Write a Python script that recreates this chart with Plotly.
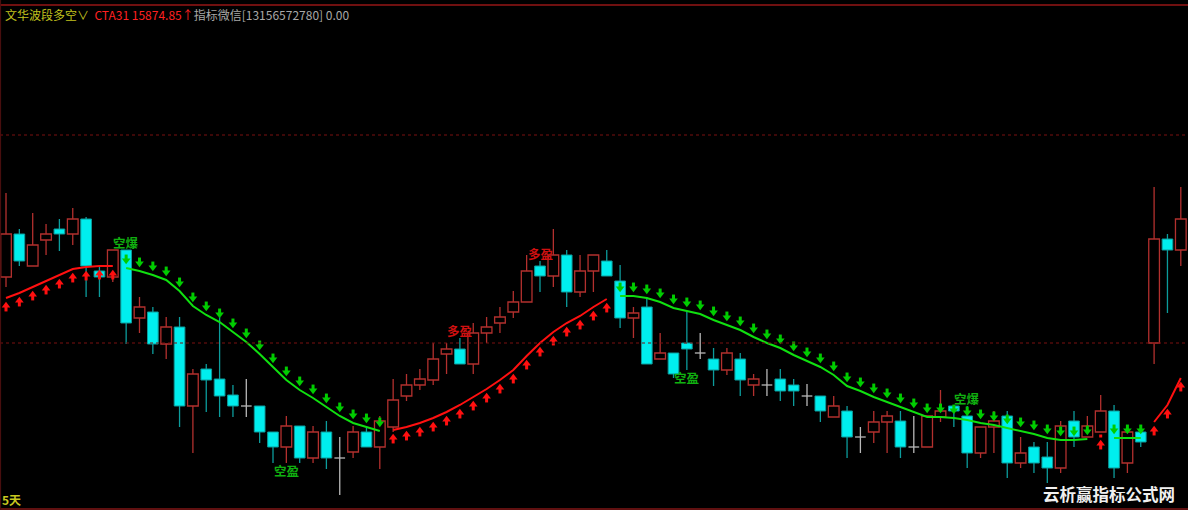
import plotly.graph_objects as go

# ---------------- data ----------------
opens = [15723, 15766, 15734, 15760, 15771, 15766, 15781, 15729, 15723, 15750,
         15682, 15688, 15656, 15673, 15594, 15631, 15621, 15605, 15594, 15594,
         15568, 15553, 15574, 15542, 15568, 15542, 15548, 15568, 15553, 15573,
         15604, 15615, 15620, 15646, 15651, 15636, 15667, 15677, 15688, 15698,
         15734, 15724, 15745, 15708, 15729, 15739, 15719, 15682, 15693, 15641,
         15647, 15657, 15647, 15641, 15630, 15641, 15615, 15615, 15621, 15615,
         15604, 15604, 15583, 15589, 15563, 15568, 15578, 15579, 15553, 15553,
         15583, 15594, 15584, 15547, 15573, 15584, 15537, 15553, 15543, 15532,
         15579, 15563, 15568, 15589, 15537, 15568, 15657, 15761, 15750]
highs = [15807, 15771, 15787, 15776, 15781, 15792, 15783, 15734, 15750, 15750,
         15703, 15693, 15683, 15683, 15631, 15636, 15683, 15615, 15621, 15594,
         15568, 15584, 15574, 15574, 15579, 15563, 15574, 15574, 15584, 15621,
         15626, 15631, 15657, 15657, 15662, 15677, 15683, 15693, 15709, 15745,
         15739, 15771, 15750, 15745, 15745, 15750, 15735, 15693, 15703, 15667,
         15647, 15689, 15667, 15652, 15652, 15647, 15626, 15631, 15631, 15621,
         15616, 15604, 15604, 15594, 15573, 15589, 15589, 15589, 15584, 15584,
         15610, 15594, 15594, 15573, 15589, 15589, 15563, 15558, 15558, 15579,
         15589, 15584, 15605, 15595, 15574, 15568, 15813, 15766, 15813]
lows = [15713, 15734, 15734, 15745, 15749, 15755, 15703, 15703, 15718, 15656,
        15667, 15646, 15641, 15573, 15547, 15588, 15583, 15583, 15583, 15557,
        15537, 15537, 15537, 15537, 15531, 15505, 15542, 15553, 15531, 15568,
        15599, 15610, 15615, 15626, 15636, 15626, 15657, 15667, 15682, 15698,
        15708, 15713, 15693, 15703, 15708, 15724, 15672, 15662, 15636, 15641,
        15622, 15630, 15641, 15614, 15625, 15604, 15604, 15604, 15599, 15594,
        15594, 15578, 15583, 15542, 15547, 15557, 15547, 15542, 15547, 15553,
        15578, 15573, 15532, 15542, 15547, 15522, 15532, 15527, 15517, 15527,
        15553, 15563, 15568, 15522, 15527, 15553, 15636, 15687, 15734]
closes = [15766, 15739, 15755, 15766, 15766, 15781, 15734, 15723, 15750, 15677,
          15693, 15656, 15673, 15594, 15626, 15620, 15604, 15594, 15594, 15568,
          15553, 15574, 15542, 15568, 15542, 15542, 15568, 15553, 15579, 15600,
          15615, 15621, 15641, 15651, 15636, 15667, 15673, 15683, 15698, 15729,
          15724, 15745, 15708, 15729, 15745, 15724, 15682, 15687, 15636, 15647,
          15626, 15651, 15647, 15630, 15647, 15620, 15621, 15615, 15609, 15609,
          15604, 15589, 15594, 15563, 15563, 15578, 15584, 15553, 15553, 15584,
          15589, 15589, 15547, 15573, 15579, 15537, 15547, 15537, 15532, 15574,
          15563, 15574, 15589, 15532, 15568, 15558, 15761, 15750, 15781]
band = [15702, 15707, 15713, 15719, 15725, 15731, 15733, 15734, 15734,
        15732, 15729, 15725, 15720, 15709, 15694, 15685, 15678, 15668, 15658,
        15646, 15633, 15620, 15610, 15602, 15593, 15584, 15577, 15573, 15569,
        15570, 15573, 15577, 15582, 15588, 15595, 15603, 15611, 15620, 15630,
        15644, 15657, 15668, 15677, 15684, 15693, 15701,
        15704, 15704, 15702, 15698, 15692, 15689, 15686, 15680, 15675, 15670,
        15663, 15657, 15652, 15645, 15639, 15633, 15625, 15614, 15609, 15603,
        15598, 15593, 15588, 15583, 15583, 15582, 15580, 15577, 15575, 15572,
        15569, 15566, 15562, 15560, 15560, 15561,
        15564, 15562, 15562, 15562, 15578, 15595, 15622]
trend = [1] * 9 + [-1] * 20 + [1] * 17 + [-1] * 36 + [1] + [-1] * 3 + [1] * 3
label_idx = [9, 21, 34, 40, 51, 72]
label_text = ["空爆", "空盈", "多盈", "多盈", "空盈", "空爆"]
grid_levels = [15865, 15657]

title_name = "文华波段多空"
title_code = "CTA31 15874.85↑"
title_info = "指标微信[13156572780] 0.00"
period_text = "5天"
watermark = "云析赢指标公式网"

# ---------------- styles ----------------
UP_C = "#b3302e"
DN_FILL = "#00eeee"
DN_LINE = "#0c9c9c"
DOJI_C = "#b8b8b8"
RED = "#ff1010"
GREEN = "#10e010"
ARW_GREEN = "#00cc00"
FONT = "Noto Sans CJK SC"

n = len(opens)
xs = list(range(n))
half = 0.4

fig = go.Figure()

up = [i for i in xs if closes[i] > opens[i]]
dn = [i for i in xs if closes[i] < opens[i]]
dj = [i for i in xs if closes[i] == opens[i]]

# bodies
fig.add_trace(go.Bar(x=up, base=[opens[i] for i in up], y=[closes[i] - opens[i] for i in up],
                     width=0.8, marker=dict(color="black", line=dict(color=UP_C, width=1.3)),
                     hoverinfo="skip"))
fig.add_trace(go.Bar(x=dn, base=[closes[i] for i in dn], y=[opens[i] - closes[i] for i in dn],
                     width=0.8, marker=dict(color=DN_FILL, line=dict(color=DN_LINE, width=1)),
                     hoverinfo="skip"))


def wicks(idx):
    wx, wy = [], []
    for i in idx:
        top = max(opens[i], closes[i])
        bot = min(opens[i], closes[i])
        if highs[i] > top:
            wx += [i, i, None]
            wy += [top, highs[i], None]
        if lows[i] < bot:
            wx += [i, i, None]
            wy += [bot, lows[i], None]
    return wx, wy


wx, wy = wicks(up)
fig.add_trace(go.Scatter(x=wx, y=wy, mode="lines", line=dict(color=UP_C, width=1.3), hoverinfo="skip"))
wx, wy = wicks(dn)
fig.add_trace(go.Scatter(x=wx, y=wy, mode="lines", line=dict(color=DN_LINE, width=1.3), hoverinfo="skip"))
dx, dy = [], []
for i in dj:
    dx += [i, i, None, i - half, i + half, None]
    dy += [lows[i], highs[i], None, closes[i], closes[i], None]
fig.add_trace(go.Scatter(x=dx, y=dy, mode="lines", line=dict(color=DOJI_C, width=1.3), hoverinfo="skip"))

# band line, split by trend
for sign, col in ((1, RED), (-1, GREEN)):
    lx, ly = [], []
    iso_x, iso_y = [], []
    for i in xs:
        if trend[i] != sign:
            continue
        prev_same = i > 0 and trend[i - 1] == sign
        next_same = i < n - 1 and trend[i + 1] == sign
        if not prev_same and not next_same:
            iso_x.append(i)
            iso_y.append(band[i])
            continue
        if not prev_same and lx:
            lx.append(None)
            ly.append(None)
        lx.append(i)
        ly.append(band[i])
    fig.add_trace(go.Scatter(x=lx, y=ly, mode="lines", line=dict(color=col, width=2), hoverinfo="skip"))
    if iso_x:
        fig.add_trace(go.Scatter(x=iso_x, y=iso_y, mode="markers",
                                 marker=dict(color=col, size=3, symbol="square"), hoverinfo="skip"))

# arrows
ri = [i for i in xs if trend[i] == 1]
gi = [i for i in xs if trend[i] == -1]
fig.add_trace(go.Scatter(x=ri, y=[band[i] - 7.5 for i in ri], mode="markers",
                         marker=dict(symbol="triangle-up", size=7.5, color=RED), hoverinfo="skip"))
fig.add_trace(go.Scatter(x=ri, y=[band[i] - 11 for i in ri], mode="markers",
                         marker=dict(symbol="line-ns", size=3.5, line=dict(color=RED, width=3)),
                         hoverinfo="skip"))
fig.add_trace(go.Scatter(x=gi, y=[band[i] + 7.5 for i in gi], mode="markers",
                         marker=dict(symbol="triangle-down", size=7.5, color=ARW_GREEN), hoverinfo="skip"))
fig.add_trace(go.Scatter(x=gi, y=[band[i] + 11 for i in gi], mode="markers",
                         marker=dict(symbol="line-ns", size=3.5, line=dict(color=ARW_GREEN, width=3)),
                         hoverinfo="skip"))

# signal labels
for i, t in zip(label_idx, label_text):
    if t.endswith("爆") or t.startswith("多"):
        yv = highs[i] + 8
    else:
        yv = lows[i] - 7
    col = "#d01010" if t.startswith("多") else "#10b010"
    fig.add_annotation(x=i, y=yv, text="<b>%s</b>" % t, showarrow=False, yanchor="middle",
                       font=dict(family=FONT, size=12.5, color=col))

# grid lines
for g in grid_levels:
    fig.add_hline(y=g, line=dict(color="#7a1010", width=1, dash="dot"))

# frame lines
fig.add_shape(type="line", xref="paper", yref="paper", x0=0, x1=1, y0=1 - 5 / 510, y1=1 - 5 / 510,
              line=dict(color="#701010", width=2))
fig.add_shape(type="line", xref="paper", yref="paper", x0=0, x1=1, y0=1 / 510, y1=1 / 510,
              line=dict(color="#601010", width=2))
fig.add_shape(type="line", xref="paper", yref="paper", x0=0.0005, x1=0.0005, y0=0, y1=1,
              line=dict(color="#501010", width=1))

# header
fig.add_annotation(xref="paper", yref="paper", x=3 / 1188, y=1 - 14 / 510, xanchor="left", yanchor="middle",
                   showarrow=False,
                   text=("<span style='color:#c2c21e'>%s∨</span>  "
                         "<span style='color:#ff2020'>%s</span>"
                         "<span style='color:#a8a8a8'>%s</span>") % (title_name, title_code, title_info),
                   font=dict(family=FONT, size=12, color="#c2c21e"))
fig.add_annotation(xref="paper", yref="paper", x=0, y=1 - 499 / 510, xanchor="left", yanchor="middle",
                   showarrow=False, text="<b>%s</b>" % period_text,
                   font=dict(family=FONT, size=12, color="#c8c820"))
fig.add_annotation(xref="paper", yref="paper", x=1109 / 1188, y=1 - 494 / 510, xanchor="center",
                   yanchor="middle", showarrow=False, text="<b>%s</b>" % watermark,
                   font=dict(family=FONT, size=16.5, color="#f0f0f0"))

fig.update_layout(
    width=1188, height=510, margin=dict(l=0, r=0, t=0, b=0),
    paper_bgcolor="black", plot_bgcolor="black", showlegend=False, barmode="overlay",
    xaxis=dict(range=[-6 / 13.35, (1188 - 6) / 13.35], visible=False, fixedrange=True),
    yaxis=dict(range=[15490, 16000], visible=False, fixedrange=True),
    hovermode=False,
)

fig.write_html("out.html", config={"displayModeBar": False},
               post_script="document.body.style.margin='0';document.body.style.background='black';")
